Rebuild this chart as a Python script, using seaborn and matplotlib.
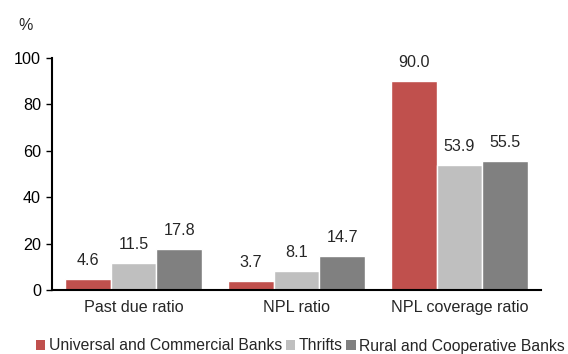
import matplotlib
matplotlib.use("Agg")
import matplotlib.pyplot as plt
import seaborn as sns
import pandas as pd
from matplotlib.patches import Patch

categories = ["Past due ratio", "NPL ratio", "NPL coverage ratio"]
series_names = ["Universal and Commercial Banks", "Thrifts", "Rural and Cooperative Banks"]
universal = [4.6, 3.7, 90.0]
thrifts = [11.5, 8.1, 53.9]
rural = [17.8, 14.7, 55.5]
colors = ["#C0504D", "#BFBFBF", "#808080"]

sns.set_style("white")
plt.rcParams["font.family"] = ["Liberation Sans", "DejaVu Sans"]
FS = 11.6

rows = []
for name, vals in zip(series_names, [universal, thrifts, rural]):
    for cat, v in zip(categories, vals):
        rows.append({"category": cat, "bank": name, "value": v})
df = pd.DataFrame(rows)

fig = plt.figure(figsize=(5.68, 3.54), dpi=100)
ax = fig.add_axes([52 / 568, 1 - 290 / 354, (541 - 52) / 568, (290 - 58) / 354])

sns.barplot(data=df, x="category", y="value", hue="bank", order=categories,
            hue_order=series_names, palette=colors, width=0.84, gap=0,
            saturation=1, ax=ax, legend=False)

for container in ax.containers:
    ax.bar_label(container, fmt="%.1f", padding=8, fontsize=FS)

ax.set_ylim(0, 100)
ax.set_xlim(-0.5, 2.5)
ax.set_yticks([0, 20, 40, 60, 80, 100])
ax.set_xlabel("")
ax.set_ylabel("")
for s in ["top", "right"]:
    ax.spines[s].set_visible(False)
for s in ["left", "bottom"]:
    ax.spines[s].set_color("black")
    ax.spines[s].set_linewidth(1.5)
ax.tick_params(axis="y", direction="out", length=4, width=1, colors="black",
               labelsize=FS, pad=4, left=True)
ax.tick_params(axis="x", length=0, labelsize=FS, pad=7)

fig.text(18 / 568, 1 - 25 / 354, "%", fontsize=FS, va="center", ha="left")

# legend row runs along the bottom edge of the figure
handles = [Patch(facecolor=c, edgecolor="none") for c in colors]
fig.legend(handles, series_names, loc="center left",
           bbox_to_anchor=(36 / 568, 1 - 346 / 354), ncol=3, frameon=False,
           fontsize=11.3, handlelength=0.6, handleheight=0.6, handletextpad=0.2,
           columnspacing=0.25, borderaxespad=0, borderpad=0)

fig.savefig("out.png", dpi=100)
